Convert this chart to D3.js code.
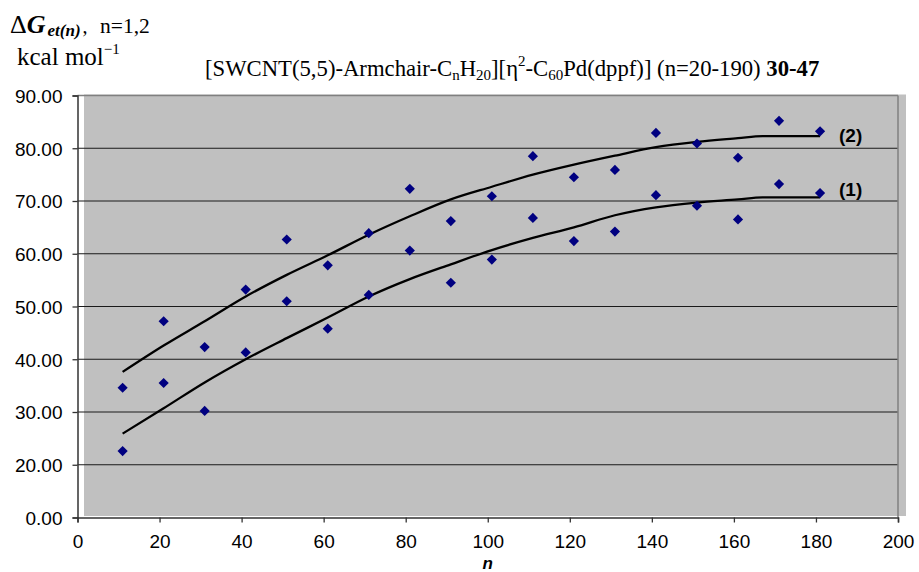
<!DOCTYPE html>
<html>
<head>
<meta charset="utf-8">
<script src="https://cdn.jsdelivr.net/npm/d3@7"></script>
<style>
body { margin: 0; background: #fff; }
svg { display: block; }
</style>
</head>
<body>
<svg id="chart" width="919" height="572"></svg>
<script>
// n positions of the computed points
const nValues = [11, 21, 31, 41, 51, 61, 71, 81, 91, 101, 111, 121, 131, 141, 151, 161, 171, 181];
// series (1), lower points
const energy1 = [22.6, 35.5, 30.2, 41.3, 51.0, 45.8, 52.2, 60.6, 54.5, 58.9, 66.8, 62.4, 64.2, 71.1, 69.1, 66.5, 73.2, 71.5];
// series (2), upper points
const energy2 = [34.6, 47.2, 42.3, 53.2, 62.7, 57.8, 63.9, 72.3, 66.2, 70.9, 78.5, 74.5, 75.9, 82.9, 80.9, 78.2, 85.2, 83.2];

// trend lines
const trendN  = [11, 21, 31, 41, 51, 61, 71, 81, 91, 101, 111, 121, 131, 141, 151, 161, 167, 171, 181];
const trend1  = [25.9, 30.7, 35.6, 40.0, 44.0, 47.9, 51.9, 55.2, 58.0, 60.7, 63.0, 65.0, 67.3, 68.8, 69.7, 70.3, 70.7, 70.7, 70.7];
const trend2  = [37.6, 42.6, 47.2, 51.9, 56.0, 59.7, 63.6, 67.1, 70.3, 72.7, 75.0, 76.9, 78.6, 80.2, 81.2, 81.9, 82.3, 82.3, 82.3];
const trendLabels = ["(1)", "(2)"];

const xTicks = [0, 20, 40, 60, 80, 100, 120, 140, 160, 180, 200];
// the bottom gridline is labelled 0.00 in the source (10.00 step is skipped)
const yTicks = [10, 20, 30, 40, 50, 60, 70, 80, 90];
const yTickLabels = ["0.00", "20.00", "30.00", "40.00", "50.00", "60.00", "70.00", "80.00", "90.00"];

const svg = d3.select("#chart");
const plotLeft = 77.5, plotRight = 898, plotTop = 95.5, plotBottom = 517.5;

const x = d3.scaleLinear().domain([0, 200]).range([plotLeft, plotRight]);
const y = d3.scaleLinear().domain([10, 90]).range([plotBottom, plotTop]);

// plot area (with its small offset fill on the right)
svg.append("rect")
	.attr("x", plotLeft + 6.5).attr("y", plotTop - 1)
	.attr("width", plotRight + 8 - plotLeft - 6.5).attr("height", plotBottom - plotTop - 0.5)
	.attr("fill", "#c0c0c0");

let g_grid = svg.append("g");
g_grid.selectAll(".grid")
	.data(yTicks.filter(d => d > 10 && d < 90))
	.join("line")
	.attr("class", "grid")
	.attr("x1", plotLeft).attr("x2", plotRight)
	.attr("y1", d => y(d)).attr("y2", d => y(d))
	.attr("stroke", "#1a1a1a").attr("stroke-width", 1.2);

// border of plot area (top / right)
svg.append("line")
	.attr("x1", plotLeft).attr("x2", plotRight)
	.attr("y1", y(90)).attr("y2", y(90))
	.attr("stroke", "#808080").attr("stroke-width", 1.5);
svg.append("line")
	.attr("x1", plotRight).attr("x2", plotRight)
	.attr("y1", y(90)).attr("y2", plotBottom)
	.attr("stroke", "#808080").attr("stroke-width", 1.5);

// axes
let yAxis = d3.axisLeft(y)
	.tickValues(yTicks)
	.tickSize(5)
	.tickPadding(10)
	.tickFormat((d, i) => yTickLabels[i]);
let xAxis = d3.axisBottom(x)
	.tickValues(xTicks)
	.tickSize(5)
	.tickPadding(12)
	.tickFormat(d3.format("d"));

let g_y = svg.append("g").attr("transform", `translate(${plotLeft},0)`).call(yAxis);
let g_x = svg.append("g").attr("transform", `translate(0,${plotBottom})`).call(xAxis);

[g_x, g_y].forEach(g => {
	g.select(".domain").attr("stroke", "#333").attr("stroke-width", 1.5);
	g.selectAll(".tick line").attr("stroke", "#333").attr("stroke-width", 1.3);
	g.selectAll(".tick text")
		.attr("fill", "#000")
		.style("font-family", "Liberation Sans, Arial, sans-serif")
		.style("font-size", "19px");
});
g_y.selectAll(".tick text").attr("dy", "0.36em");
g_x.selectAll(".tick text").attr("dy", "0.7em");

// trend lines
let line = d3.line()
	.x(d => x(d[0]))
	.y(d => y(d[1]))
	.curve(d3.curveMonotoneX);

[trend1, trend2].forEach(series => {
	svg.append("path")
		.datum(trendN.map((n, i) => [n, series[i]]))
		.attr("d", line)
		.attr("fill", "none")
		.attr("stroke", "#000")
		.attr("stroke-width", 2.3);
});

// points
let diamond = d3.symbol().type(d3.symbolSquare).size(52);
let points = [];
nValues.forEach((n, i) => {
	points.push([n, energy1[i]]);
	points.push([n, energy2[i]]);
});
svg.append("g").selectAll(".pt")
	.data(points)
	.join("path")
	.attr("class", "pt")
	.attr("d", diamond)
	.attr("transform", d => `translate(${x(d[0])},${y(d[1])}) rotate(45)`)
	.attr("fill", "#000080");

// series labels at the end of each trend line, (1) sits a bit above its line
const labelShift = [-1, 6];
[trend1, trend2].forEach((series, i) => {
	svg.append("text")
		.attr("x", x(trendN[trendN.length - 1]) + 19)
		.attr("y", y(series[series.length - 1]) + labelShift[i])
		.style("font-family", "Liberation Sans, Arial, sans-serif")
		.style("font-weight", "bold")
		.style("font-size", "19px")
		.text(trendLabels[i]);
});

// x axis title, right at the bottom edge
svg.append("text")
	.attr("x", x(100))
	.attr("y", 569)
	.attr("text-anchor", "middle")
	.style("font-family", "Liberation Sans, Arial, sans-serif")
	.style("font-weight", "bold")
	.style("font-style", "italic")
	.style("font-size", "17px")
	.text("n");

// y axis title (two rows, top left)
const serif = "Liberation Serif, Times New Roman, serif";
let yl = svg.append("text").attr("x", 10).attr("y", 33).style("font-family", serif);
yl.append("tspan").style("font-size", "26px").text("\u0394");
yl.append("tspan").style("font-size", "26px").style("font-weight", "bold").style("font-style", "italic").text("G");
yl.append("tspan").style("font-size", "17px").style("font-weight", "bold").style("font-style", "italic")
	.attr("dx", 2).attr("dy", 3).text("et(n)");
yl.append("tspan").style("font-size", "20px").attr("dx", 2).attr("dy", -3).text(",");
yl.append("tspan").style("font-size", "21.5px").attr("x", 100).text("n=1,2");

let yl2 = svg.append("text").attr("x", 17).attr("y", 65).style("font-family", serif).style("font-size", "25px");
yl2.append("tspan").text("kcal mol");
yl2.append("tspan").style("font-size", "15px").attr("dy", -11).text("\u22121");

// chart title
let title = svg.append("text").attr("x", 205).attr("y", 76).style("font-family", serif).style("font-size", "22.7px");
title.append("tspan").text("[SWCNT(5,5)-Armchair-C");
title.append("tspan").style("font-size", "15px").attr("dy", 4).text("n");
title.append("tspan").attr("dy", -4).text("H");
title.append("tspan").style("font-size", "15px").attr("dy", 4).text("20");
title.append("tspan").attr("dy", -4).text("][\u03b7");
title.append("tspan").style("font-size", "15px").attr("dy", -10).text("2");
title.append("tspan").attr("dy", 10).text("-C");
title.append("tspan").style("font-size", "15px").attr("dy", 4).text("60");
title.append("tspan").attr("dy", -4).text("Pd(dppf)] (n=20-190) ");
title.append("tspan").style("font-weight", "bold").text("30-47");
</script>
</body>
</html>
